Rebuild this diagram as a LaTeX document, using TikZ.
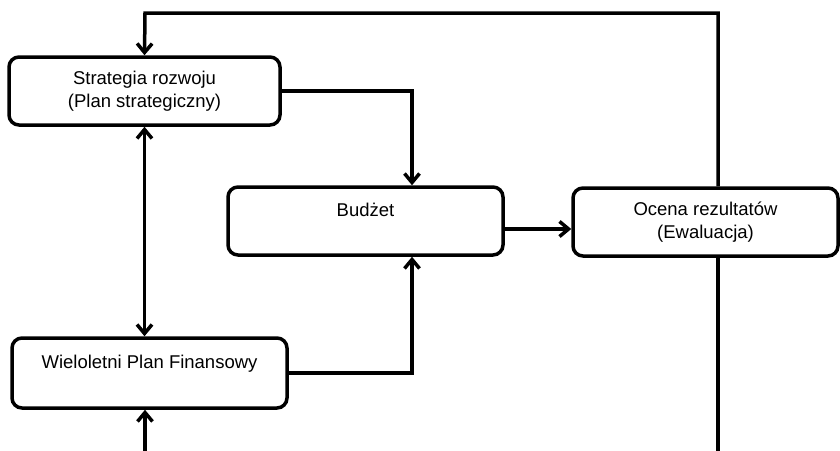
\documentclass[tikz,border=0pt]{standalone}
\usepackage{fontspec}
\setmainfont{Liberation Sans}
\usetikzlibrary{arrows.meta}
\begin{document}
\begin{tikzpicture}[x=1pt,y=-1pt,
  box/.style={draw, line width=3.5pt, rounded corners=10pt, inner sep=0pt, align=center, font=\fontsize{18.5}{23}\selectfont},
  conn/.style={line width=3.5pt},
  arr/.style={conn, -{Straight Barb[length=9pt,width=15pt,line width=3.5pt]}},
  darr/.style={conn, {Straight Barb[length=9pt,width=15pt,line width=3.5pt]}-{Straight Barb[length=9pt,width=15pt,line width=3.5pt]}}]
\useasboundingbox (0,0) rectangle (840,450);
\node[box, minimum width=271, minimum height=68] (strat) at (144.5,91) {Strategia rozwoju\\(Plan strategiczny)};
\node[box, minimum width=275, minimum height=68] (budzet) at (365.5,221) {Budżet\\\mbox{}};
\node[box, minimum width=265, minimum height=68] (ocena) at (705.5,222) {Ocena rezultatów\\(Ewaluacja)};
\node[box, minimum width=275, minimum height=70] (wpf) at (149.5,373) {Wieloletni Plan Finansowy\\\mbox{}};
\coordinate (top) at (145,13);
\coordinate (btm) at (145,452);
\coordinate (rbtm) at (718,452);
\draw[arr] (strat.east) -| ([xshift=46.5]budzet.north);
\draw[arr] (wpf.east) -| ([xshift=46.5]budzet.south);
\draw[arr] ([yshift=-8]budzet.east) -- ([yshift=-8]budzet.east -| ocena.west);
\draw[darr] (strat.south) -- (strat.south |- wpf.north);
\draw[arr] (btm) -- (btm |- wpf.south);
\draw[arr] ([xshift=12.5]ocena.north) |- (top) -- (strat.north);
\draw[conn] ([xshift=12.5]ocena.south) -- (rbtm);
\end{tikzpicture}
\end{document}
